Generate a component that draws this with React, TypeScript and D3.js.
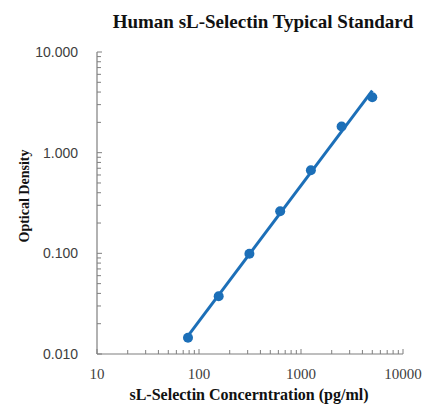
import React from 'react';
import * as d3 from 'd3';

const concentrations = [78, 156, 312, 625, 1250, 2500, 5000];
const densities = [0.0145, 0.0375, 0.099, 0.262, 0.668, 1.82, 3.55];
const xTickValues = [10, 100, 1000, 10000];
const xTickLabels = ['10', '100', '1000', '10000'];
const yTickValues = [0.01, 0.1, 1, 10];
const yTickLabels = ['0.010', '0.100', '1.000', '10.000'];

const W = 422;
const H = 405;
const margin = { top: 52, right: 19, bottom: 51, left: 97 };
const blue = '#1c6fb8';
const axisColor = '#7f7f7f';
const labelColor = '#404040';

// minor ticks for each decade between lo and hi
function minorTicks(lo: number, hi: number) {
  const out: number[] = [];
  for (let d = lo; d < hi; d *= 10) {
    for (let k = 2; k <= 9; k++) out.push(d * k);
  }
  return out;
}

export default function App() {
  const x = d3.scaleLog().domain([10, 10000]).range([margin.left, W - margin.right]);
  const y = d3.scaleLog().domain([0.01, 10]).range([H - margin.bottom, margin.top]);

  // power trendline fitted in log-log space
  const lx = concentrations.map(Math.log10);
  const ly = densities.map(Math.log10);
  const mx = d3.mean(lx) as number;
  const my = d3.mean(ly) as number;
  const slope =
    d3.sum(lx, (v, i) => (v - mx) * (ly[i] - my)) / d3.sum(lx, (v) => (v - mx) ** 2);
  const icpt = my - slope * mx;
  const fit = (c: number) => Math.pow(10, icpt + slope * Math.log10(c));
  const xs = d3.extent(concentrations) as [number, number];
  const trend = d3
    .line<number>()
    .x((c) => x(c))
    .y((c) => y(fit(c)))([xs[0], xs[1]]);

  const x0 = x.range()[0];
  const yB = y.range()[0];

  return (
    <svg width={W} height={H} style={{ position: 'absolute', left: 0, top: 0, background: '#fff' }}>
      <text
        x={263}
        y={28}
        textAnchor="middle"
        fontFamily="'Liberation Serif', serif"
        fontWeight="bold"
        fontSize={19}
        fill="#111"
      >
        Human sL-Selectin Typical Standard
      </text>

      {/* axes */}
      <line x1={x0} x2={x.range()[1]} y1={yB} y2={yB} stroke={axisColor} strokeWidth={1.2} />
      <line x1={x0} x2={x0} y1={y.range()[1]} y2={yB} stroke={axisColor} strokeWidth={1.2} />

      {minorTicks(10, 10000).map((v) => (
        <line key={'xm' + v} x1={x(v)} x2={x(v)} y1={yB} y2={yB - 4} stroke={axisColor} strokeWidth={1} />
      ))}
      {xTickValues.map((v) => (
        <line key={'xM' + v} x1={x(v)} x2={x(v)} y1={yB} y2={yB - 5} stroke={axisColor} strokeWidth={1} />
      ))}
      {minorTicks(0.01, 10).map((v) => (
        <line key={'ym' + v} x1={x0} x2={x0 + 4} y1={y(v)} y2={y(v)} stroke={axisColor} strokeWidth={1} />
      ))}
      {yTickValues.map((v) => (
        <line key={'yM' + v} x1={x0} x2={x0 + 5} y1={y(v)} y2={y(v)} stroke={axisColor} strokeWidth={1} />
      ))}

      {xTickValues.map((v, i) => (
        <text
          key={'xl' + v}
          x={x(v)}
          y={yB + 25}
          textAnchor="middle"
          fontFamily="'Liberation Serif', serif"
          fontSize={15}
          fill={labelColor}
        >
          {xTickLabels[i]}
        </text>
      ))}
      {yTickValues.map((v, i) => (
        <text
          key={'yl' + v}
          x={x0 - 19}
          y={y(v) + 5}
          textAnchor="end"
          fontFamily="'Liberation Sans', sans-serif"
          fontSize={14}
          fill={labelColor}
        >
          {yTickLabels[i]}
        </text>
      ))}

      <text
        x={249}
        y={400}
        textAnchor="middle"
        fontFamily="'Liberation Serif', serif"
        fontWeight="bold"
        fontSize={16}
        fill="#111"
      >
        sL-Selectin Concerntration (pg/ml)
      </text>
      <text
        transform="translate(24,196) rotate(-90)"
        dy="0.35em"
        textAnchor="middle"
        fontFamily="'Liberation Serif', serif"
        fontWeight="bold"
        fontSize={14}
        fill="#111"
      >
        Optical Density
      </text>

      <path d={trend || ''} fill="none" stroke={blue} strokeWidth={3} />
      {concentrations.map((c, i) => (
        <circle key={c} cx={x(c)} cy={y(densities[i])} r={5} fill={blue} />
      ))}
    </svg>
  );
}
